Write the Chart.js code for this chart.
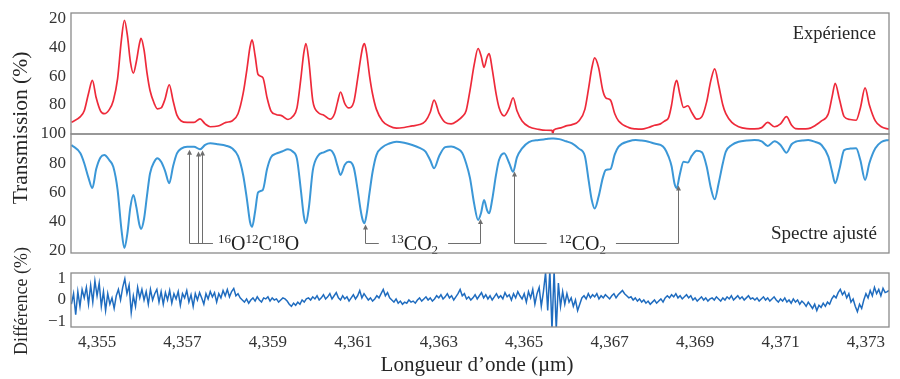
<!DOCTYPE html>
<html><head><meta charset="utf-8">
<script src="https://cdn.jsdelivr.net/npm/chart.js@4.4.1/dist/chart.umd.min.js"></script>
<style>
html,body{margin:0;padding:0;background:#fff;}
#wrap{position:relative;width:900px;height:379px;overflow:hidden;font-family:"Liberation Serif",serif;color:#262626;}
canvas{position:absolute;left:0;}
.t{position:absolute;white-space:nowrap;line-height:1;z-index:5;}
.rot{transform:translate(-50%,-50%) rotate(-90deg);}
</style></head><body>
<div id="wrap">
<canvas id="c1" width="900" height="146" style="top:0px"></canvas>
<canvas id="c2" width="900" height="142" style="top:123px"></canvas>
<canvas id="c3" width="900" height="117" style="top:262px"></canvas>
<div class="t rot" style="left:21px;top:128px;font-size:21.5px;">Transmission (%)</div>
<div class="t rot" style="left:21px;top:301px;font-size:18px;">Différence (%)</div>
<div class="t" style="left:477px;top:354px;font-size:21px;transform:translateX(-50%);">Longueur d’onde (µm)</div>
<div class="t" style="right:24px;top:24px;font-size:18.5px;">Expérience</div>
<div class="t" style="right:23px;top:223px;font-size:19px;">Spectre ajusté</div>
</div>
<script>
// ---------- data ----------
const wavelength = [4.35440,4.35461,4.35470,4.35480,4.35489,4.35498,4.35508,4.35517,4.35529,4.35538,
4.35548,4.35557,4.35564,4.35571,4.35578,4.35585,4.35592,4.35599,4.35603,4.35610,
4.35617,4.35624,4.35634,4.35641,4.35650,4.35659,4.35669,4.35678,4.35687,4.35697,
4.35711,4.35727,4.35741,4.35753,4.35765,4.35783,4.35802,4.35816,4.35830,4.35842,
4.35851,4.35858,4.35863,4.35870,4.35877,4.35888,4.35898,4.35907,4.35919,4.35933,
4.35947,4.35958,4.35968,4.35977,4.35984,4.35989,4.35996,4.36005,4.36017,4.36031,
4.36045,4.36056,4.36063,4.36070,4.36080,4.36089,4.36101,4.36110,4.36117,4.36122,
4.36126,4.36131,4.36138,4.36145,4.36154,4.36168,4.36184,4.36201,4.36219,4.36238,
4.36255,4.36269,4.36280,4.36289,4.36301,4.36315,4.36329,4.36343,4.36355,4.36364,
4.36373,4.36383,4.36392,4.36399,4.36406,4.36413,4.36418,4.36425,4.36434,4.36441,
4.36453,4.36465,4.36474,4.36483,4.36495,4.36511,4.36534,4.36551,4.36565,4.36567,4.36569,
4.36582,4.36598,4.36612,4.36628,4.36642,4.36651,4.36658,4.36665,4.36674,4.36684,
4.36691,4.36702,4.36712,4.36721,4.36745,4.36761,4.36775,4.36791,4.36805,4.36819,
4.36829,4.36838,4.36845,4.36852,4.36857,4.36864,4.36873,4.36883,4.36892,4.36904,
4.36916,4.36927,4.36937,4.36946,4.36955,4.36965,4.36972,4.36986,4.37002,4.37021,
4.37039,4.37056,4.37070,4.37086,4.37100,4.37114,4.37126,4.37135,4.37151,4.37165,
4.37182,4.37196,4.37212,4.37221,4.37228,4.37238,4.37249,4.37263,4.37277,4.37287,
4.37298,4.37308,4.37322,4.37336,4.37354];

const experience = [92,88,84,72,63,75,84,86,83,77,
62,35,21.5,32,50,58,50,38,34,42,
58,70,79,82.6,82,76,66,77,87,91,
92,92,89.6,93,95,94.5,92,91,86,72,
55,40,35,46,59,61,75,84,86.5,87.5,
90,88,82,62,44,37.6,50,77,85,87,
89.8,86,78,71,79,82,78,62,48,40,
37.6,44,60,72.4,83,91,94.5,96,95.5,94.4,
93.5,91,85,76.6,86,92,93,91,88,84,
70,52,41,46,54,47,44.6,55,72,81.7,
87.5,82,75,84,91,95,96.8,97.4,97.5,99.8,97.3,
96,94.4,93.5,91,83,68,55,47.4,54,70,
75,76.6,86,91,95.6,96.5,96.7,95.5,94,93,
91,88.7,80,67,63,72,81.7,80.5,85,89.8,
88,78,63,55,66,80,86,92,95,96.3,
96.5,95.6,92,95,93,88,94,96.3,96.5,96.3,
94,91,86,74,65,76,88,90,90.5,82,
68.2,80,91,95,96.7];

const ajuste = [92.5,86.8,80,70,63,76,84,85.6,82,77.6,
62,35,22,32,50,58.3,50,38,35,42,
58,73,81,83.4,81,75,66.3,78,86.8,90,
91.3,91.3,89.5,92.5,93.6,93,92,90.2,85,72,
55,40,36.6,47,60,61.7,76,84,86.5,88,
89.5,88,83,62,44,39,50,75,85,87.5,
89,85,78,72,79,81,77,62,48,41,
39,45,60,74,85.6,91,93.5,94.7,94,92.5,
90.5,88,82,76.5,85,91,91.5,90,87,80,
70,52,41.2,46,54.9,48,45.8,55,72,82.2,
86.8,80,74.2,84,90.2,94.5,95.9,96.5,97,97,97,
96.5,95,93.6,90,85,68,55,49,57,70,
75.4,76,86,91.3,95,95.9,95.5,94.7,93.5,92.5,
90,84.5,78,66,63,72,81,80.5,85,88.6,
87.5,78,63,55.3,66,80,87.9,92.5,94.7,95.5,
95.9,95,91.8,95,92.5,87.2,93,94.7,95.5,95.9,
94.5,92.5,84.5,74,66.3,76,89,90,90.2,82,
68.6,80,90.2,94.5,96];

const diffWavelength = [
4.35440,4.35445,4.35450,4.35455,4.35460,4.35465,4.35470,4.35475,4.35480,4.35485,4.35490,4.35495,4.35500,4.35505,4.35510,4.35515,4.35520,4.35525,4.35530,4.35535,
4.35540,4.35545,4.35550,4.35555,4.35560,4.35565,4.35570,4.35575,4.35580,4.35585,4.35590,4.35595,4.35600,4.35605,4.35610,4.35615,4.35620,4.35625,4.35630,4.35635,
4.35640,4.35645,4.35650,4.35655,4.35660,4.35665,4.35670,4.35675,4.35680,4.35685,4.35690,4.35695,4.35700,4.35705,4.35710,4.35715,4.35720,4.35725,4.35730,4.35735,
4.35740,4.35745,4.35750,4.35755,4.35760,4.35765,4.35770,4.35775,4.35780,4.35785,4.35790,4.35795,4.35800,4.35805,4.35810,4.35815,4.35820,4.35825,4.35830,4.35835,
4.35840,4.35845,4.35850,4.35855,4.35860,4.35865,4.35870,4.35875,4.35880,4.35885,4.35890,4.35895,4.35900,4.35905,4.35910,4.35915,4.35920,4.35925,4.35930,4.35935,
4.35940,4.35945,4.35950,4.35955,4.35960,4.35965,4.35970,4.35975,4.35980,4.35985,4.35990,4.35995,4.36000,4.36005,4.36010,4.36015,4.36020,4.36025,4.36030,4.36035,
4.36040,4.36045,4.36050,4.36055,4.36060,4.36065,4.36070,4.36075,4.36080,4.36085,4.36090,4.36095,4.36100,4.36105,4.36110,4.36115,4.36120,4.36125,4.36130,4.36135,
4.36140,4.36145,4.36150,4.36155,4.36160,4.36165,4.36170,4.36175,4.36180,4.36185,4.36190,4.36195,4.36200,4.36205,4.36210,4.36215,4.36220,4.36225,4.36230,4.36235,
4.36240,4.36245,4.36250,4.36255,4.36260,4.36265,4.36270,4.36275,4.36280,4.36285,4.36290,4.36295,4.36300,4.36305,4.36310,4.36315,4.36320,4.36325,4.36330,4.36335,
4.36340,4.36345,4.36350,4.36355,4.36360,4.36365,4.36370,4.36375,4.36380,4.36385,4.36390,4.36395,4.36400,4.36405,4.36410,4.36415,4.36420,4.36425,4.36430,4.36435,
4.36440,4.36445,4.36450,4.36455,4.36460,4.36465,4.36470,4.36475,4.36480,4.36485,4.36490,4.36495,4.36500,4.36505,4.36510,4.36515,4.36520,4.36525,4.36530,4.36535,
4.36540,4.36545,4.36550,4.36555,4.36560,4.36565,4.36570,4.36575,4.36580,4.36585,4.36590,4.36595,4.36600,4.36605,4.36610,4.36615,4.36620,4.36625,4.36630,4.36635,
4.36640,4.36645,4.36650,4.36655,4.36660,4.36665,4.36670,4.36675,4.36680,4.36685,4.36690,4.36695,4.36700,4.36705,4.36710,4.36715,4.36720,4.36725,4.36730,4.36735,
4.36740,4.36745,4.36750,4.36755,4.36760,4.36765,4.36770,4.36775,4.36780,4.36785,4.36790,4.36795,4.36800,4.36805,4.36810,4.36815,4.36820,4.36825,4.36830,4.36835,
4.36840,4.36845,4.36850,4.36855,4.36860,4.36865,4.36870,4.36875,4.36880,4.36885,4.36890,4.36895,4.36900,4.36905,4.36910,4.36915,4.36920,4.36925,4.36930,4.36935,
4.36940,4.36945,4.36950,4.36955,4.36960,4.36965,4.36970,4.36975,4.36980,4.36985,4.36990,4.36995,4.37000,4.37005,4.37010,4.37015,4.37020,4.37025,4.37030,4.37035,
4.37040,4.37045,4.37050,4.37055,4.37060,4.37065,4.37070,4.37075,4.37080,4.37085,4.37090,4.37095,4.37100,4.37105,4.37110,4.37115,4.37120,4.37125,4.37130,4.37135,
4.37140,4.37145,4.37150,4.37155,4.37160,4.37165,4.37170,4.37175,4.37180,4.37185,4.37190,4.37195,4.37200,4.37205,4.37210,4.37215,4.37220,4.37225,4.37230,4.37235,
4.37240,4.37245,4.37250,4.37255,4.37260,4.37265,4.37270,4.37275,4.37280,4.37285,4.37290,4.37295,4.37300,4.37305,4.37310,4.37315,4.37320,4.37325,4.37330,4.37335,
4.37340,4.37345,4.37350,4.37354];

const difference = [
-0.2,0.3,-0.7,0.4,-0.3,0.5,0.1,0.6,-0.2,0.7,-0.1,0.9,0.2,0.8,-0.3,0.4,-0.5,0.3,-0.2,0.1,
-0.4,0.2,0.5,0.0,0.6,1.0,0.3,0.7,-0.6,0.2,-0.3,0.6,0.1,0.5,0.0,0.4,-0.2,0.5,0.0,0.3,
0.5,-0.1,0.4,-0.2,0.35,0.0,0.45,-0.15,0.3,0.05,0.4,-0.25,0.3,0.1,0.45,-0.1,0.25,-0.3,0.3,0.0,
0.35,0.1,-0.2,0.3,0.05,0.4,0.15,0.35,-0.1,0.3,0.1,0.45,0.2,0.5,0.15,0.4,0.55,0.2,0.3,0.1,
0.0,-0.1,0.05,-0.15,0.0,0.1,-0.05,0.15,0.0,-0.1,0.1,0.05,0.15,-0.05,0.1,0.0,0.05,-0.1,0.0,0.1,
0.05,-0.05,-0.2,-0.3,-0.15,-0.25,-0.1,-0.2,0.0,-0.1,0.05,0.1,0.0,0.15,0.05,0.2,0.0,0.1,0.25,0.05,
0.15,0.3,0.05,0.2,0.35,0.1,0.0,0.2,0.05,0.15,-0.05,0.1,0.25,0.05,0.2,0.45,0.1,0.3,0.15,0.0,
0.1,-0.05,0.05,0.2,0.1,0.3,0.5,0.2,0.35,0.1,0.0,-0.1,0.05,-0.15,-0.05,-0.2,-0.1,-0.15,0.0,-0.1,
-0.05,-0.15,0.0,0.1,-0.05,0.05,0.15,0.0,0.1,-0.05,0.05,0.2,0.1,0.25,0.05,0.15,0.3,0.1,0.2,0.0,
0.15,0.3,0.5,0.2,0.3,0.05,0.15,0.0,0.1,0.25,0.05,0.2,0.35,0.1,0.25,0.05,0.2,0.0,0.15,0.3,
0.1,0.2,0.05,0.35,0.15,0.25,0.0,0.3,0.1,0.4,0.2,0.05,0.3,-0.1,0.4,0.1,0.5,-0.2,0.3,0.6,
-0.3,0.4,1.3,-0.5,1.4,-1.4,1.4,-1.4,0.8,-0.3,0.4,-0.2,0.3,-0.1,0.1,-0.3,0.0,-0.5,-0.2,0.1,
0.2,0.05,0.3,0.1,0.25,0.15,0.3,0.05,0.2,0.1,0.25,0.15,0.05,0.2,0.3,0.1,0.25,0.35,0.45,0.3,
0.2,0.1,0.15,0.0,0.1,-0.05,0.05,-0.1,0.0,-0.15,-0.05,-0.2,-0.1,0.0,-0.15,-0.05,0.05,-0.1,0.1,0.2,
0.1,0.25,0.15,0.3,0.1,0.2,0.05,0.15,0.25,0.1,0.2,0.0,0.1,-0.05,0.05,0.15,0.0,0.1,-0.05,0.05,
0.1,0.0,0.15,0.05,-0.05,0.1,0.0,0.15,0.05,0.2,0.0,0.1,0.2,0.05,0.15,0.0,0.1,0.2,0.05,0.1,
0.0,0.1,-0.05,0.05,0.15,0.0,0.1,-0.05,0.05,0.15,0.0,-0.1,0.05,-0.05,0.1,-0.1,0.0,-0.15,0.05,-0.1,
0.0,-0.2,-0.05,-0.15,-0.3,-0.1,-0.25,-0.4,-0.2,-0.5,-0.25,-0.35,-0.15,-0.3,-0.1,-0.2,0.05,0.2,0.1,0.35,
0.5,0.25,0.4,0.1,0.3,-0.1,0.05,-0.3,-0.55,-0.2,-0.4,0.0,0.3,0.1,0.45,0.2,0.6,0.3,0.5,0.2,
0.55,0.35,0.4,0.45];

const xTickValues = [4.355,4.357,4.359,4.361,4.363,4.365,4.367,4.369,4.371,4.373];
const xTickLabels = ['4,355','4,357','4,359','4,361','4,363','4,365','4,367','4,369','4,371','4,373'];
const topTickValues = [20,40,60,80,100];
const topTickLabels = ['20','40','60','80','100'];
const midTickValues = [20,40,60,80];
const midTickLabels = ['20','40','60','80'];
const diffTickValues = [-1,0,1];
const diffTickLabels = ['\u22121','0','1'];

// isotope annotations (arrow target wavelengths, label text parts, label anchor wavelength)
const isotopeArrows = [[4.35715,4.35736,4.35746],[4.36127,4.36396],[4.36476,4.36860]];
const isotopeLabels = [
  [['16','sup'],['O'],['12','sup'],['C'],['18','sup'],['O']],
  [['13','sup'],['CO'],['2','sub']],
  [['12','sup'],['CO'],['2','sub']]
];
const isotopeLabelAt = [4.35783, 4.36243, 4.36636];
const annotBaseline = 25.5;

// ---------- rendering ----------
const X_MIN = 4.35439, X_MAX = 4.37354;
const FONT = '"Liberation Serif", serif';
const BORDER = '#8a8a8a';

const boxPlugin = {id:'box', afterDraw(chart){
  const {ctx, chartArea:a} = chart;
  ctx.save(); ctx.strokeStyle = BORDER; ctx.lineWidth = 1.3;
  ctx.strokeRect(a.left, a.top, a.right - a.left, a.bottom - a.top);
  ctx.restore();
}};

function yAxis(min, max, reverse, vals, labels){
  return {type:'linear', min, max, reverse,
    afterFit(s){ s.width = 71; },
    afterBuildTicks(s){ s.ticks = vals.map(v => ({value:v})); },
    grid:{display:false, drawTicks:true, tickLength:5}, border:{display:false},
    ticks:{padding:0, color:'#333', font:{family:FONT, size:17}, callback:(v,i)=>labels[i]}};
}

function pts(xs, ys){ return xs.map((x,i)=>({x, y:ys[i]})); }

function fitAt(lam){
  for (let i=1;i<wavelength.length;i++){
    if (wavelength[i] >= lam){
      const t = (lam - wavelength[i-1])/(wavelength[i]-wavelength[i-1]);
      return ajuste[i-1] + t*(ajuste[i]-ajuste[i-1]);
    }
  }
  return ajuste[ajuste.length-1];
}

function partsWidth(ctx, parts){
  let w = 0;
  for (const p of parts){ ctx.font = (p[1] ? '13px ' : '20px ') + FONT; w += ctx.measureText(p[0]).width; }
  return w;
}
function drawParts(ctx, parts, x0, yBase){
  let cx = x0;
  for (const p of parts){
    ctx.font = (p[1] ? '13px ' : '20px ') + FONT;
    const dy = p[1]==='sup' ? -7 : (p[1]==='sub' ? 4 : 0);
    ctx.fillText(p[0], cx, yBase + dy);
    cx += ctx.measureText(p[0]).width;
  }
  return cx;
}

const annotPlugin = {id:'annot', afterDatasetsDraw(chart){
  const {ctx, scales:{x, y}} = chart;
  const yb = Math.round(y.getPixelForValue(annotBaseline)) + 0.5;
  ctx.save();
  ctx.strokeStyle = '#6e6e6e'; ctx.lineWidth = 1;
  const arrow = (lam) => {
    const px = Math.round(x.getPixelForValue(lam)) + 0.5;
    const tip = y.getPixelForValue(fitAt(lam)) + 3;
    ctx.beginPath(); ctx.moveTo(px, yb); ctx.lineTo(px, tip + 4); ctx.stroke();
    ctx.fillStyle = '#6e6e6e';
    ctx.beginPath(); ctx.moveTo(px, tip); ctx.lineTo(px-2.5, tip+5); ctx.lineTo(px+2.5, tip+5); ctx.closePath(); ctx.fill();
    return px;
  };
  const hline = (a, b) => { ctx.beginPath(); ctx.moveTo(a, yb); ctx.lineTo(b, yb); ctx.stroke(); };
  ctx.textBaseline = 'alphabetic'; ctx.textAlign = 'left';
  isotopeArrows.forEach((arr, g) => {
    const pxs = arr.map(arrow);
    const w = partsWidth(ctx, isotopeLabels[g]);
    const anchor = x.getPixelForValue(isotopeLabelAt[g]);
    let left, right;
    if (g === 0){ left = anchor; right = anchor + w; hline(pxs[0], left - 5); }
    else { left = anchor - w/2; right = anchor + w/2; hline(pxs[0], left - 12); hline(right + 10, pxs[pxs.length-1]); }
    ctx.fillStyle = '#222';
    drawParts(ctx, isotopeLabels[g], left, yb + 6);
  });
  ctx.restore();
}};

const common = {responsive:false, animation:false, devicePixelRatio:1, events:[],
  plugins:{legend:{display:false}, tooltip:{enabled:false}}};

new Chart(document.getElementById('c1'), {
  type:'line',
  data:{datasets:[{data:pts(wavelength, experience), borderColor:'#ee2a3a', borderWidth:1.7,
    pointRadius:0, cubicInterpolationMode:'monotone', fill:false}]},
  options:Object.assign({}, common, {
    layout:{padding:{top:13, bottom:12, left:0, right:11}},
    scales:{x:{type:'linear', min:X_MIN, max:X_MAX, display:false},
            y:yAxis(16.5, 100, true, topTickValues, topTickLabels)}}),
  plugins:[boxPlugin]
});

new Chart(document.getElementById('c2'), {
  type:'line',
  data:{datasets:[{data:pts(wavelength, ajuste), borderColor:'#3b97d7', borderWidth:2,
    pointRadius:0, cubicInterpolationMode:'monotone', fill:false}]},
  options:Object.assign({}, common, {
    layout:{padding:{top:11, bottom:12, left:0, right:11}},
    scales:{x:{type:'linear', min:X_MIN, max:X_MAX, display:false},
            y:yAxis(18.6, 100, false, midTickValues, midTickLabels)}}),
  plugins:[boxPlugin, annotPlugin]
});

new Chart(document.getElementById('c3'), {
  type:'line',
  data:{datasets:[{data:pts(diffWavelength, difference), borderColor:'#1f6cbf', borderWidth:1.5,
    pointRadius:0, tension:0, fill:false}]},
  options:Object.assign({}, common, {
    layout:{padding:{top:11, bottom:0, left:0, right:11}},
    scales:{
      x:{type:'linear', min:X_MIN, max:X_MAX,
        afterFit(s){ s.height = 52; },
        afterBuildTicks(s){ s.ticks = xTickValues.map(v => ({value:v})); },
        grid:{display:false, drawTicks:false}, border:{display:false},
        ticks:{padding:5, autoSkip:false, maxRotation:0, color:'#333', font:{family:FONT, size:17},
          callback:(v,i)=>xTickLabels[i]}},
      y:yAxis(-1.28, 1.28, false, diffTickValues, diffTickLabels)}}),
  plugins:[boxPlugin]
});
</script>
</body></html>
